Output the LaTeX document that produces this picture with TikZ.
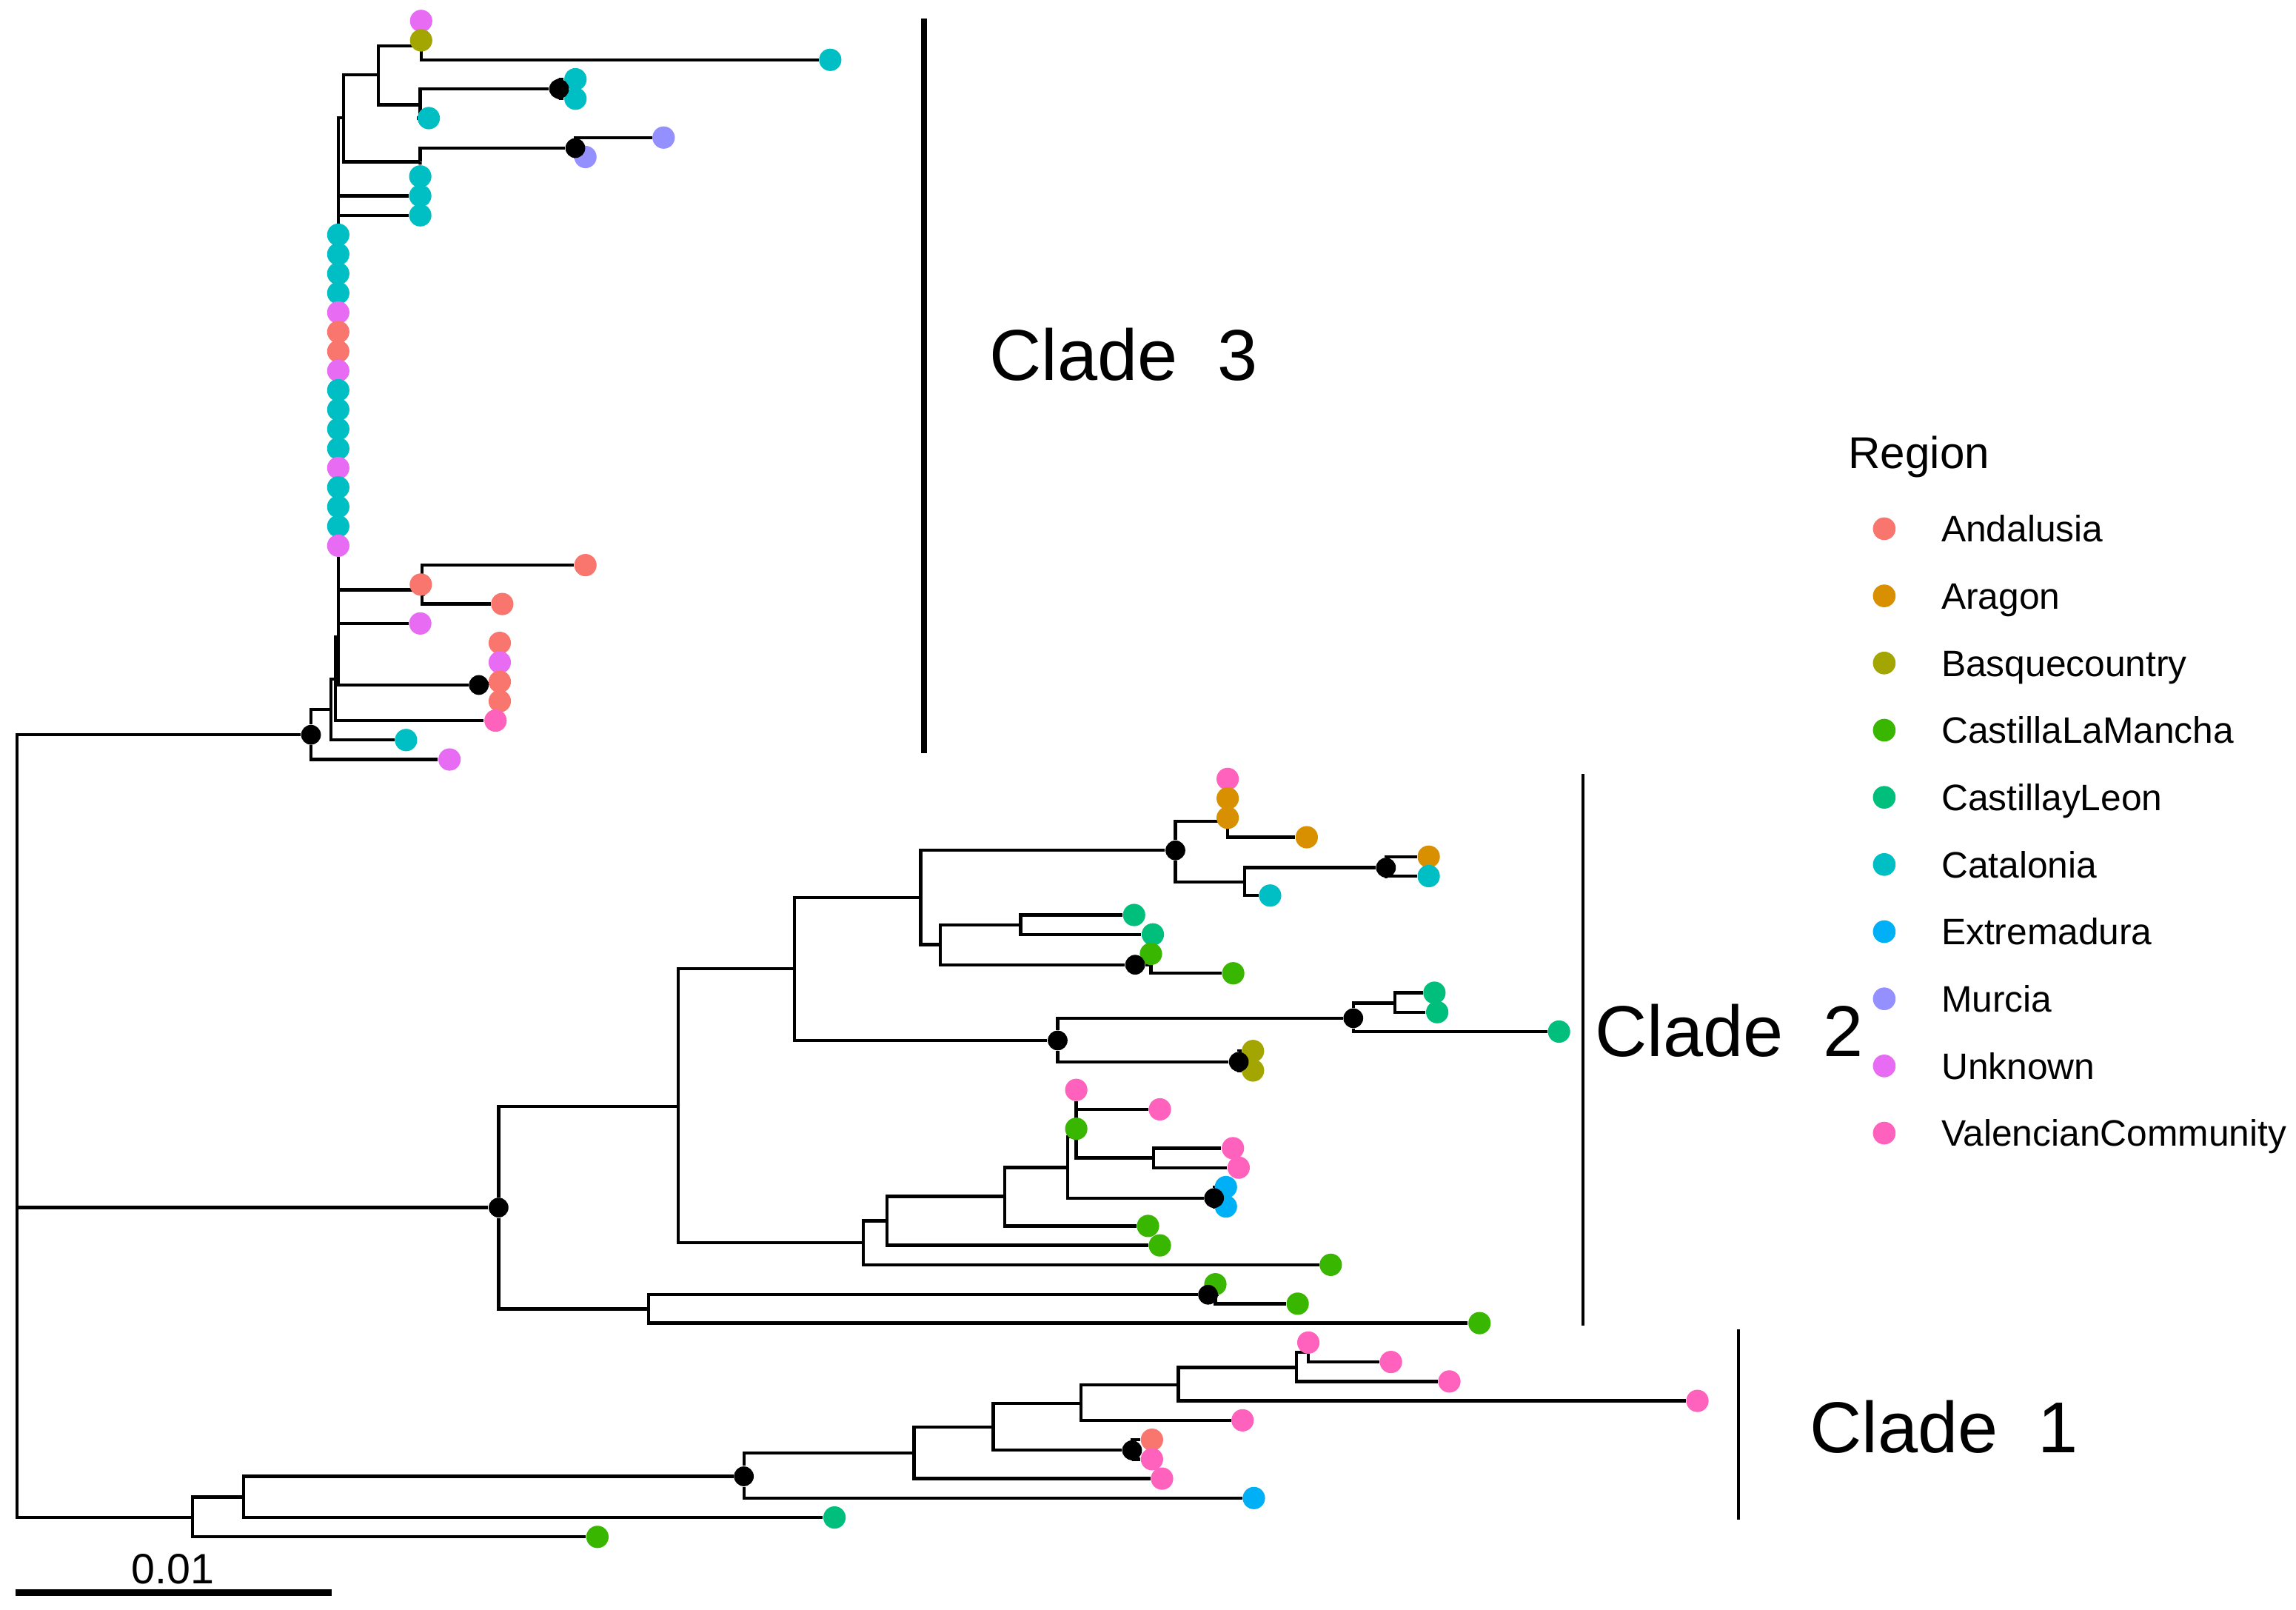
\documentclass[tikz,border=0pt]{standalone}
\usepackage{fontspec}
\setmainfont{Liberation Sans}
\pgfdeclarelayer{back}
\pgfdeclarelayer{bg}
\pgfsetlayers{back,bg,main}
\definecolor{cAnd}{HTML}{F8766D}
\definecolor{cAra}{HTML}{D89000}
\definecolor{cBas}{HTML}{A3A500}
\definecolor{cCLM}{HTML}{39B600}
\definecolor{cCyL}{HTML}{00BF7D}
\definecolor{cCat}{HTML}{00BFC4}
\definecolor{cExt}{HTML}{00B0F6}
\definecolor{cMur}{HTML}{9590FF}
\definecolor{cUnk}{HTML}{E76BF3}
\definecolor{cVal}{HTML}{FF62BC}
\newcommand{\tipdotat}[3]{\node[tipdot,fill=#3] (t#1) at (#2,{14.3+13.27*#1}) {};}
\begin{document}
\begin{tikzpicture}[x=0.2mm,y=-0.2mm,
  tipdot/.style={circle,inner sep=0pt,minimum size=3.05mm,draw=none},
  bnode/.style={circle,inner sep=0pt,minimum size=2.7mm,fill=black,draw=none},
  legdot/.style={circle,inner sep=0pt,minimum size=3.1mm,draw=none},
  branch/.style={line width=1.25pt,black},
  cladelab/.style={anchor=base west,inner sep=0pt,font=\fontsize{28}{34}\selectfont},
  leglab/.style={anchor=base west,inner sep=0pt,font=\fontsize{14.3}{17}\selectfont},
  cladebar/.style={line width=1.1pt,black}]
\begin{pgfonlayer}{back}
\fill[white] (0,0) rectangle (1568,1098.8);
\end{pgfonlayer}
\useasboundingbox (0,0) rectangle (1568,1098.8);

% ---------- tips ----------
\tipdotat{0}{287.6}{cUnk}
\tipdotat{1}{287.6}{cBas}
\tipdotat{2}{567}{cCat}
\tipdotat{3}{393}{cCat}
\tipdotat{4}{393}{cCat}
\tipdotat{5}{292.8}{cCat}
\tipdotat{6}{453.2}{cMur}
\tipdotat{7}{399.8}{cMur}
\tipdotat{8}{287}{cCat}
\tipdotat{9}{287}{cCat}
\tipdotat{10}{287}{cCat}
\foreach \k/\c in {11/cCat,12/cCat,13/cCat,14/cCat,15/cUnk,16/cAnd,17/cAnd,18/cUnk,19/cCat,20/cCat,21/cCat,22/cCat,23/cUnk,24/cCat,25/cCat,26/cCat,27/cUnk}{\tipdotat{\k}{231}{\c}}
\tipdotat{28}{399.8}{cAnd}
\tipdotat{29}{287.4}{cAnd}
\tipdotat{30}{343}{cAnd}
\tipdotat{31}{287}{cUnk}
\tipdotat{32}{341.3}{cAnd}
\tipdotat{33}{341.3}{cUnk}
\tipdotat{34}{341.3}{cAnd}
\tipdotat{35}{341.3}{cAnd}
\tipdotat{36}{338.4}{cVal}
\tipdotat{37}{277.3}{cCat}
\tipdotat{38}{307}{cUnk}
\tipdotat{39}{838.4}{cVal}
\tipdotat{40}{838.4}{cAra}
\tipdotat{41}{838.4}{cAra}
\tipdotat{42}{892.4}{cAra}
\tipdotat{43}{975.7}{cAra}
\tipdotat{44}{975.7}{cCat}
\tipdotat{45}{867.4}{cCat}
\tipdotat{46}{774.5}{cCyL}
\tipdotat{47}{787.3}{cCyL}
\tipdotat{48}{786}{cCLM}
\tipdotat{49}{842.2}{cCLM}
\tipdotat{50}{979.6}{cCyL}
\tipdotat{51}{981.5}{cCyL}
\tipdotat{52}{1064.7}{cCyL}
\tipdotat{53}{855.7}{cBas}
\tipdotat{54}{855.7}{cBas}
\tipdotat{55}{735}{cVal}
\tipdotat{56}{792.1}{cVal}
\tipdotat{57}{735}{cCLM}
\tipdotat{58}{842}{cVal}
\tipdotat{59}{845.9}{cVal}
\tipdotat{60}{837.2}{cExt}
\tipdotat{61}{837.2}{cExt}
\tipdotat{62}{784}{cCLM}
\tipdotat{63}{792.1}{cCLM}
\tipdotat{64}{908.8}{cCLM}
\tipdotat{65}{830}{cCLM}
\tipdotat{66}{886.2}{cCLM}
\tipdotat{67}{1010.4}{cCLM}
\tipdotat{68}{893.5}{cVal}
\tipdotat{69}{949.9}{cVal}
\tipdotat{70}{989.8}{cVal}
\tipdotat{71}{1159.2}{cVal}
\tipdotat{72}{848.6}{cVal}
\tipdotat{73}{786.7}{cAnd}
\tipdotat{74}{786.7}{cVal}
\tipdotat{75}{793.6}{cVal}
\tipdotat{76}{856.3}{cExt}
\tipdotat{77}{569.9}{cCyL}
\tipdotat{78}{408}{cCLM}

% ---------- internal nodes: clade 3 ----------
\coordinate (p3a) at (287.6,31.2);
\node[bnode] (p3b) at (381.8,60.7) {};
\coordinate (p3c) at (286.9,71.6);
\coordinate (p3d) at (258.4,51);
\node[bnode] (p3e) at (392.9,101.1) {};
\coordinate (p3f) at (286.9,110.4);
\coordinate (p3g) at (234.7,80.3);
\coordinate (p3h) at (288.3,402.8);
\node[bnode] (p3j) at (327,467.7) {};
\coordinate (p3k) at (231,435);
\coordinate (p3l) at (229,463.7);
\coordinate (p3m) at (226,484.4);
\node[bnode] (p3n) at (212.4,501.7) {};

% ---------- internal nodes: clade 2 ----------
\coordinate (q1) at (838.4,560.8);
\node[bnode] (q2) at (946.5,592.4) {};
\coordinate (q3) at (850,602.2);
\node[bnode] (q4) at (802.7,580.6) {};
\coordinate (q5) at (697.1,631.4);
\node[bnode] (q6b) at (775.2,658.7) {};
\coordinate (q6c) at (786,658.7);
\coordinate (q6) at (642.2,645);
\coordinate (q7) at (628.7,612.8);
\coordinate (q8) at (952.5,684.9);
\node[bnode] (q9) at (924.2,695.2) {};
\node[bnode] (q10) at (846,725) {};
\node[bnode] (q11) at (722.3,710.4) {};
\coordinate (q12) at (542.4,661.5);
\coordinate (q13) at (787.8,790.6);
\coordinate (q14) at (735,776.2);
\node[bnode] (q16) at (829.1,818) {};
\coordinate (q15) at (729.1,797.1);
\coordinate (q17) at (686.3,816.8);
\coordinate (q18) at (605.6,833.6);
\coordinate (q19) at (589.6,848.6);
\coordinate (q20) at (463,755.3);
\node[bnode] (q21) at (825,884) {};
\coordinate (q21c) at (830,884);
\coordinate (q22) at (443,893.8);
\node[bnode] (q23) at (340.5,824.5) {};

% ---------- internal nodes: clade 1 ----------
\coordinate (r1) at (893.5,923.3);
\coordinate (r2) at (885.3,933.7);
\coordinate (r3) at (804.8,945.5);
\coordinate (r4) at (738.2,958.2);
\node[bnode] (r5) at (773.1,990.2) {};
\coordinate (r6) at (678.3,974.2);
\coordinate (r7) at (624.2,991.9);
\node[bnode] (r8) at (508,1008) {};
\coordinate (r9) at (166.4,1022.2);
\coordinate (r10) at (131.5,1036);
\coordinate (root) at (11.6,824.5);

% ---------- branches ----------
\begin{pgfonlayer}{bg}
\begin{scope}[branch]
% clade 3
\draw (p3a) -- (t0); \draw (p3a) |- (t2);
\draw (p3b) |- (t3); \draw (p3b) |- (t4);
\draw (p3c) |- (p3b); \draw (p3c) |- (t5);
\draw (p3d) |- (p3a); \draw (p3d) |- (p3c);
\draw (p3e) |- (t6); \draw (p3e) |- (t7);
\draw (p3f) |- (p3e); \draw (p3f) -- (t8);
\draw (p3g) |- (p3d); \draw (p3g) |- (p3f);
\draw (p3k) |- (p3g); \draw (p3k) |- (t9); \draw (p3k) |- (t10);
\draw (p3k) |- (p3h); \draw (p3k) |- (t31); \draw (p3k) |- (p3j);
\draw (p3h) |- (t28); \draw (p3h) |- (t30); \draw (p3h) -- (t29);
\draw (t32) -- (t35); \draw (p3j) -- (t34);
\draw (p3l) |- (p3k); \draw (p3l) |- (t36);
\draw (p3m) |- (p3l); \draw (p3m) |- (t37);
\draw (p3n) |- (p3m); \draw (p3n) |- (t38);
% clade 2
\draw (q1) -- (t39); \draw (q1) |- (t42);
\draw (q2) |- (t43); \draw (q2) |- (t44);
\draw (q3) |- (q2); \draw (q3) |- (t45);
\draw (q4) |- (q1); \draw (q4) |- (q3);
\draw (q5) |- (t46); \draw (q5) |- (t47);
\draw (q6b) -- (q6c); \draw (q6c) -- (t48); \draw (q6c) |- (t49);
\draw (q6) |- (q5); \draw (q6) |- (q6b);
\draw (q7) |- (q4); \draw (q7) |- (q6);
\draw (q8) |- (t50); \draw (q8) |- (t51);
\draw (q9) |- (q8); \draw (q9) |- (t52);
\draw (q10) |- (t53); \draw (q10) |- (t54);
\draw (q11) |- (q9); \draw (q11) |- (q10);
\draw (q12) |- (q7); \draw (q12) |- (q11);
\draw (q13) |- (t58); \draw (q13) |- (t59);
\draw (q14) -- (t55); \draw (q14) |- (t56); \draw (q14) |- (q13);
\draw (q16) |- (t60); \draw (q16) |- (t61);
\draw (q15) |- (q14); \draw (q15) |- (q16);
\draw (q17) |- (q15); \draw (q17) |- (t62);
\draw (q18) |- (q17); \draw (q18) |- (t63);
\draw (q19) |- (q18); \draw (q19) |- (t64);
\draw (q20) |- (q12); \draw (q20) |- (q19);
\draw (q21) -- (q21c); \draw (q21c) -- (t65); \draw (q21c) |- (t66);
\draw (q22) |- (q21); \draw (q22) |- (t67);
\draw (q23) |- (q20); \draw (q23) |- (q22);
% clade 1
\draw (r1) -- (t68); \draw (r1) |- (t69);
\draw (r2) |- (r1); \draw (r2) |- (t70);
\draw (r3) |- (r2); \draw (r3) |- (t71);
\draw (r4) |- (r3); \draw (r4) |- (t72);
\draw (r5) |- (t73); \draw (r5) |- (t74);
\draw (r6) |- (r4); \draw (r6) |- (r5);
\draw (r7) |- (r6); \draw (r7) |- (t75);
\draw (r8) |- (r7); \draw (r8) |- (t76);
\draw (r9) |- (r8); \draw (r9) |- (t77);
\draw (r10) |- (r9); \draw (r10) |- (t78);
% root
\draw (root) |- (p3n); \draw (root) |- (q23); \draw (root) |- (r10);
\end{scope}
\end{pgfonlayer}

% ---------- clade bars and labels ----------
\coordinate (b3t) at (631,12.6); \coordinate (b3b) at (631,514);
\draw[line width=2.5pt] (b3t) -- (b3b);
\coordinate (b2t) at (1081.2,528.4); \coordinate (b2b) at (1081.2,905);
\draw[cladebar] (b2t) -- (b2b);
\coordinate (b1t) at (1187.2,907.6); \coordinate (b1b) at (1187.2,1037.4);
\draw[cladebar] (b1t) -- (b1b);
\node[cladelab] (lab3) at (675.5,259.6) {Clade~~3};
\node[cladelab] (lab2) at (1089,721.4) {Clade~~2};
\node[cladelab] (lab1) at (1235.5,991.9) {Clade~~1};

% ---------- scale bar ----------
\coordinate (sb1) at (10.5,1087.3); \coordinate (sb2) at (226.3,1087.3);
\draw[line width=2.7pt] (sb1) -- (sb2);
\node[anchor=base,inner sep=0pt,font=\fontsize{16.5}{20}\selectfont] (sblab) at (118,1081.2) {0.01};

% ---------- legend ----------
\node[anchor=base west,inner sep=0pt,font=\fontsize{17.3}{21}\selectfont] (legtitle) at (1262,319.8) {Region};
\foreach \i/\c/\n in {0/cAnd/Andalusia,1/cAra/Aragon,2/cBas/Basquecountry,3/cCLM/CastillaLaMancha,4/cCyL/CastillayLeon,5/cCat/Catalonia,6/cExt/Extremadura,7/cMur/Murcia,8/cUnk/Unknown,9/cVal/ValencianCommunity}{
  \node[legdot,fill=\c] (ld\i) at (1286.8,{361+45.85*\i}) {};
  \node[leglab] (ll\i) at (1325.5,{370+45.85*\i}) {\n};
}
\end{tikzpicture}
\end{document}
